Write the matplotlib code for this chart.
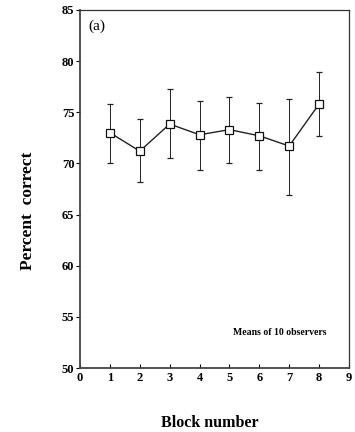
import matplotlib
matplotlib.use("Agg")
import matplotlib.pyplot as plt

blocks = [1, 2, 3, 4, 5, 6, 7, 8]
percent_correct = [73.0, 71.2, 73.85, 72.8, 73.3, 72.7, 71.7, 75.8]
err_upper = [2.8, 3.1, 3.4, 3.3, 3.2, 3.2, 4.6, 3.1]
err_lower = [3.0, 3.0, 3.3, 3.4, 3.3, 3.3, 4.8, 3.1]
x_ticks = [0, 1, 2, 3, 4, 5, 6, 7, 8, 9]
y_ticks = [50, 55, 60, 65, 70, 75, 80, 85]

plt.rcParams['font.family'] = ['Liberation Serif', 'DejaVu Serif']
plt.rcParams['font.weight'] = 'bold'

fig = plt.figure(figsize=(3.55, 4.32), dpi=100)
ax = fig.add_axes([0.2254, 0.148, 0.7576, 0.829])

ax.errorbar(blocks, percent_correct, yerr=[err_lower, err_upper],
            color='#222222', lw=1.0, elinewidth=0.7, capsize=2.5, capthick=0.8,
            marker='s', markersize=5.5, markerfacecolor='white',
            markeredgecolor='#111111', markeredgewidth=0.9, zorder=3)

ax.set_xlim(0, 9)
ax.set_ylim(50, 85)
ax.set_xticks(x_ticks)
ax.set_yticks(y_ticks)
ax.tick_params(axis='y', direction='out', length=3, width=0.8, labelsize=9, pad=1)
ax.tick_params(axis='x', direction='in', length=3, width=0.8, labelsize=9, pad=3)

for side in ['left', 'bottom']:
    ax.spines[side].set_linewidth(1.3)
    ax.spines[side].set_color('#444444')
for side in ['top', 'right']:
    ax.spines[side].set_linewidth(0.9)
    ax.spines[side].set_color('#333333')

ax.text(0.28, 83.4, '(a)', fontsize=11, fontweight='normal', va='center', ha='left')
ax.text(6.7, 53.5, 'Means of 10 observers', fontsize=7, fontweight='bold',
        ha='center', va='center')

fig.text(0.59, 0.021, 'Block number', fontsize=11.5, fontweight='bold', ha='center', va='center')
fig.text(0.078, 0.512, 'Percent  correct', fontsize=12.5, fontweight='bold',
         ha='center', va='center', rotation=90)

fig.savefig('out.png', dpi=100)
